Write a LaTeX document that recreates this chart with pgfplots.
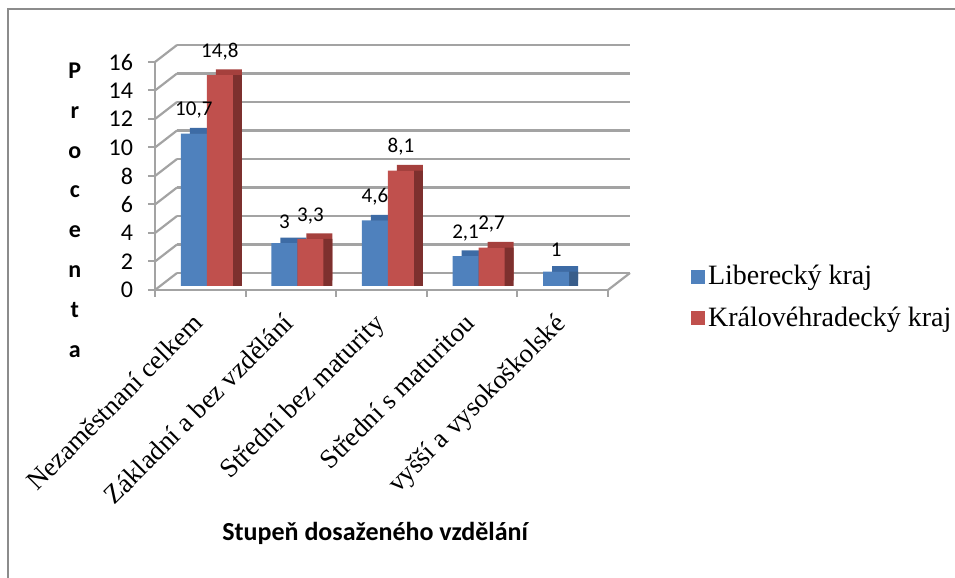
\documentclass[border=0pt]{standalone}
\usepackage{pgfplots}
\pgfplotsset{compat=1.18}
\usepackage{pgfplotstable}
\usepackage{fontspec}
\setmainfont{Liberation Serif}
\newfontfamily\calfont{Carlito}

\definecolor{barblue}{HTML}{4F81BD}
\definecolor{bluetop}{HTML}{3D6BA5}
\definecolor{blueside}{HTML}{385D8A}
\definecolor{barred}{HTML}{C0504D}
\definecolor{redtop}{HTML}{A5403D}
\definecolor{redside}{HTML}{7D302E}
\definecolor{gridgray}{HTML}{A3A3A3}
\definecolor{framegray}{HTML}{8C8C8C}

\pgfplotstableread{
x lib kra
0 10.7 14.8
1 3 3.3
2 4.6 8.1
3 2.1 2.7
4 1 nan
}\data

\pgfplotsset{
  common/.style={scale only axis, width=226.5pt, height=114pt,
    xmin=-0.5, xmax=4.5, ymin=0, ymax=16, anchor=south west},
  barbase/.style={ybar, bar width=13pt, draw=none},
}

\begin{document}
\begin{tikzpicture}
\draw[framegray, line width=0.75pt] (4pt,0pt) -- (4pt,284.5pt) -- (477.5pt,284.5pt);

% back wall
\begin{axis}[common, at={(88.5pt,152.5pt)},
  ytick={0,2,...,16}, yticklabels={}, xtick=\empty,
  major tick length=0pt, axis line style={draw=none},
  ymajorgrids, grid style={gridgray, line width=1.1pt}]
\addplot[draw=none] coordinates {(0,0)};
\end{axis}

% front frame (left wall, floor)
\begin{axis}[common, at={(77.5pt,144pt)},
  axis x line=bottom, axis y line=left,
  axis line style={gridgray, line width=1.1pt, -},
  ytick={0,2,...,16},
  xtick={0,...,4},
  xticklabels={Nezaměstnaní celkem, Základní a bez vzdělání, Střední bez maturity, Střední s maturitou, vyšší a vysokoškolské},
  major x tick style={draw=none},
  minor xtick={-0.5,0.5,...,4.5},
  minor x tick style={gridgray, line width=1pt},
  minor tick length=3.5pt,
  ytick style={gridgray, line width=1pt},
  major tick length=3.5pt,
  tick align=outside,
  yticklabel style={font=\calfont\fontsize{12}{14}\selectfont, xshift=-4pt},
  /pgf/number format/assume math mode=true,
  xticklabel style={font=\fontsize{13.4}{15}\selectfont, rotate=45, anchor=north east, xshift=-5pt, yshift=1.5pt},
  ylabel={P\\r\\o\\c\\e\\n\\t\\a},
  ylabel style={rotate=-90, at={(axis description cs:-0.177,0.35)}, anchor=center, align=center, font=\calfont\bfseries\fontsize{12}{19.9}\selectfont},
  xlabel={Stupeň dosaženého vzdělání},
  xlabel style={at={(axis description cs:0.486,-1.066)}, anchor=center, font=\calfont\bfseries\fontsize{13}{15}\selectfont},
  clip=false]
\addplot[draw=none] coordinates {(0,0)};
\pgfplotsinvokeforeach{0,2,...,16}{\draw[gridgray, line width=1.1pt] (axis cs:-0.5,#1) -- ++(11pt,8.5pt);}
\draw[gridgray, line width=1.1pt] (axis cs:4.5,0) -- ++(11pt,8.5pt);
\end{axis}

% bars
\begin{axis}[common, at={(80.75pt,146pt)}, hide axis, clip=false,
  legend style={at={(axis description cs:1.155,-0.05)}, anchor=west, draw=none, fill=none,
    font=\fontsize{14}{15.5}\selectfont, row sep=6.5pt, nodes={inner sep=1.5pt}},
  legend cell align=left,
  legend image code/.code={\fill[#1] (0pt,-3.5pt) rectangle (7pt,3.5pt);},
  nodes near coords style={font=\calfont\fontsize{10.5}{12}\selectfont, yshift=4pt},
  /pgf/number format/assume math mode=true,
  /pgf/number format/use comma]
\addplot[barbase, bar shift=-6.5pt, fill=bluetop, xshift=4.5pt, yshift=2.8pt, forget plot] table[x=x,y=lib]{\data};
\addplot[barbase, bar shift=-6.5pt, fill=blueside, xshift=4.5pt, forget plot] table[x=x,y=lib]{\data};
\addplot[barbase, bar shift=6.5pt, fill=redtop, xshift=4.5pt, yshift=2.8pt, forget plot] table[x=x,y=kra]{\data};
\addplot[barbase, bar shift=6.5pt, fill=redside, xshift=4.5pt, forget plot] table[x=x,y=kra]{\data};
\addplot[barbase, bar shift=-6.5pt, fill=barblue, nodes near coords, every node near coord/.append style={xshift=-6.5pt}] table[x=x,y=lib]{\data};
\addplot[barbase, bar shift=6.5pt, fill=barred, nodes near coords, every node near coord/.append style={xshift=6.5pt}] table[x=x,y=kra]{\data};
\legend{Liberecký kraj, Královéhradecký kraj}
\end{axis}
\pgfresetboundingbox
\path[use as bounding box] (0pt,0pt) rectangle (477.5pt,289pt);
\end{tikzpicture}
\end{document}
